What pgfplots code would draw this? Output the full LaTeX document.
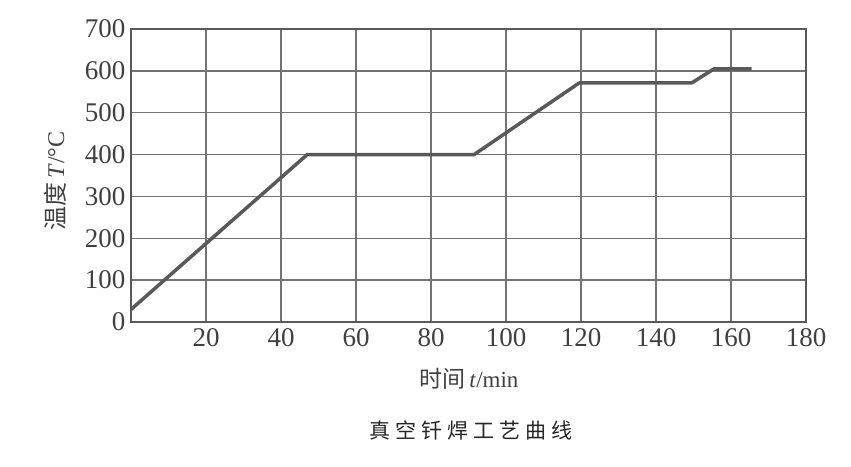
\documentclass[border=0pt]{standalone}
\usepackage{pgfplots}
\pgfplotsset{compat=1.18}
\usepackage{fontspec}
\setmainfont{Liberation Serif}
\newfontfamily\cjk{Noto Sans CJK SC}
\begin{document}
\begin{tikzpicture}[x=1pt,y=1pt]
\useasboundingbox (0,0) rectangle (851,466);
\begin{axis}[
  at={(131pt,144pt)}, anchor=south west,
  scale only axis, width=675pt, height=293pt,
  xmin=0, xmax=180, ymin=0, ymax=700,
  xtick={20,40,...,180}, ytick={0,100,...,700},
  grid=major,
  major grid style={color=black!55, line width=1.3pt},
  axis line style={black!65, line width=1.6pt},
  major tick length=0pt,
  /pgf/number format/assume math mode=true,
  tick label style={font=\fontsize{27}{27}\selectfont, text=black!75},
  xticklabel style={yshift=-3pt},
  yticklabel style={xshift=-2pt},
]
\addplot[black!65, line width=3.5pt, line join=round] coordinates {
  (0,30) (47,400) (91.5,400) (119.5,571) (149.5,571) (155.5,605) (165.5,605)};
\end{axis}
\node[text=black!75] at (469,87) {\fontsize{23}{24}\selectfont{\cjk 时间}\,\textit{t}/min};
\node[text=black!75, rotate=90] at (55,285) {\fontsize{24}{24}\selectfont{\cjk 温度}\,\textit{T}/°C};
\node[text=black!85] at (471,36) {\fontsize{21}{24}\selectfont\cjk 真\hspace{5pt}空\hspace{5pt}钎\hspace{5pt}焊\hspace{5pt}工\hspace{5pt}艺\hspace{5pt}曲\hspace{5pt}线};
\end{tikzpicture}
\end{document}
